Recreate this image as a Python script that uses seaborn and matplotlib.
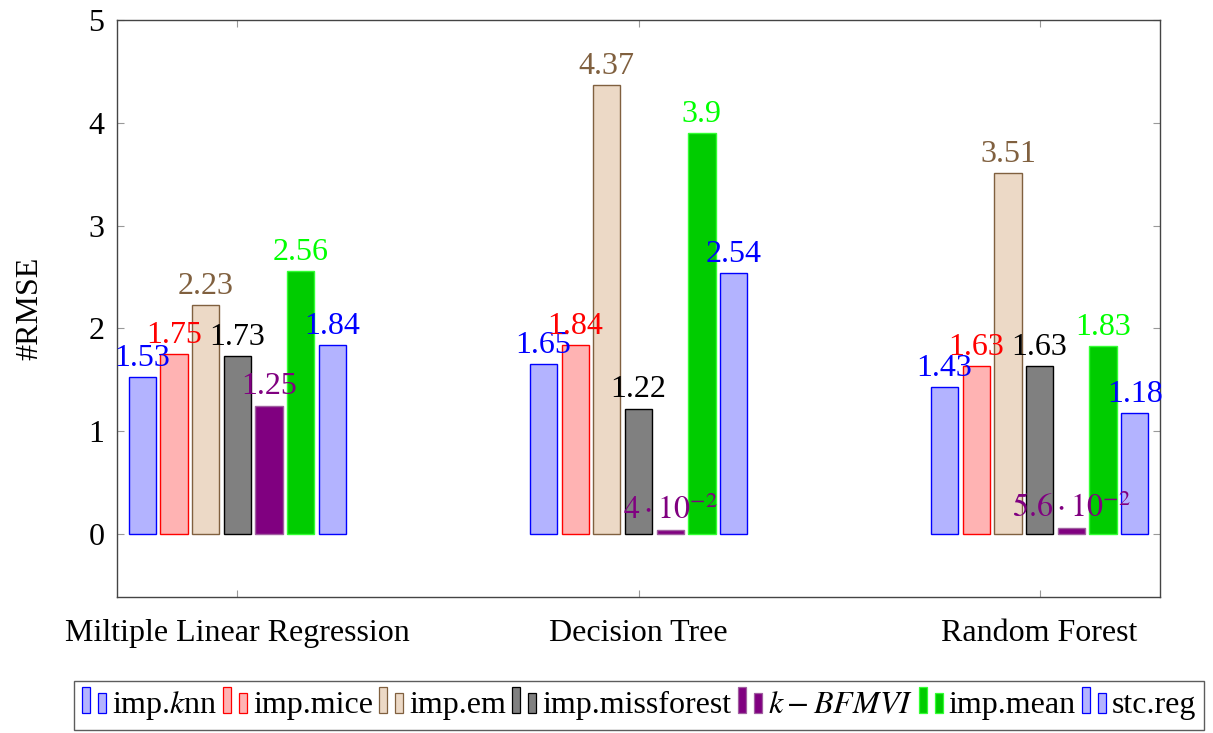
import matplotlib
matplotlib.use("Agg")
import matplotlib.pyplot as plt
from matplotlib.patches import Rectangle
from matplotlib.legend_handler import HandlerBase
import seaborn as sns
import pandas as pd

# ---- data ----
models = ["Miltiple Linear Regression", "Decision Tree", "Random Forest"]
methods = ["imp.knn", "imp.mice", "imp.em", "imp.missforest", "k-BFMVI", "imp.mean", "stc.reg"]
legend_labels = ["imp.$k$nn", "imp.mice", "imp.em", "imp.missforest", "$k-BFMVI$", "imp.mean", "stc.reg"]

imp_knn = [1.53, 1.65, 1.43]
imp_mice = [1.75, 1.84, 1.63]
imp_em = [2.23, 4.37, 3.51]
imp_missforest = [1.73, 1.22, 1.63]
k_bfmvi = [1.25, 0.04, 0.056]
imp_mean = [2.56, 3.9, 1.83]
stc_reg = [1.84, 2.54, 1.18]

series = [imp_knn, imp_mice, imp_em, imp_missforest, k_bfmvi, imp_mean, stc_reg]
bar_texts = [
    ["1.53", "1.65", "1.43"],
    ["1.75", "1.84", "1.63"],
    ["2.23", "4.37", "3.51"],
    ["1.73", "1.22", "1.63"],
    ["1.25", r"$4\cdot10^{-2}$", r"$5.6\cdot10^{-2}$"],
    ["2.56", "3.9", "1.83"],
    ["1.84", "2.54", "1.18"],
]

# ---- style ----
fills = ["#B3B3FF", "#FFB3B3", "#ECD9C6", "#808080", "#800080", "#00CC00", "#B3B3FF"]
edges = ["#0000FF", "#FF0000", "#80603F", "#000000", "#A060A0", "#33FF33", "#0000FF"]
text_colors = ["#0000FF", "#FF0000", "#80603F", "#000000", "#800080", "#00FF00", "#0000FF"]

sns.set_style("ticks")
plt.rcParams["font.family"] = ["Liberation Serif", "DejaVu Serif"]
plt.rcParams["mathtext.fontset"] = "stix"
plt.rcParams["text.color"] = "black"
plt.rcParams["axes.labelcolor"] = "black"
FS = 23

rows = []
for name, vals in zip(methods, series):
    for model, v in zip(models, vals):
        rows.append({"model": model, "method": name, "rmse": v})
df = pd.DataFrame(rows)

fig = plt.figure(figsize=(12.13, 7.33), dpi=100)
ax = fig.add_axes([0.0965, 0.1855, 0.8598, 0.7872])

sns.barplot(data=df, x="model", y="rmse", hue="method", order=models,
            hue_order=methods, palette=fills, width=0.553, gap=0.14,
            errorbar=None, legend=False, ax=ax, saturation=1)

for cont, ec, tc, txt in zip(ax.containers, edges, text_colors, bar_texts):
    for p in cont:
        p.set_edgecolor(ec)
        p.set_linewidth(1.0)
    ax.bar_label(cont, labels=txt, padding=3, color=tc, fontsize=FS)

ax.set_xlim(-0.3, 2.3)
ax.set_ylim(-0.613, 5)
ax.set_yticks([0, 1, 2, 3, 4, 5])
ax.set_xlabel("")
ax.set_ylabel("#RMSE", fontsize=FS, labelpad=32)
ax.tick_params(axis="both", which="major", direction="in", length=5, width=0.8,
               color="#999999", labelcolor="black", labelsize=FS, top=True, right=True)
ax.tick_params(axis="y", pad=9)
ax.tick_params(axis="x", pad=16)
for s in ax.spines.values():
    s.set_visible(True)
    s.set_color("#444444")
    s.set_linewidth(1.0)


class TwoBarHandler(HandlerBase):
    def create_artists(self, legend, orig_handle, xdescent, ydescent,
                       width, height, fontsize, trans):
        fc = orig_handle.get_facecolor()
        ec = orig_handle.get_edgecolor()
        x0 = -xdescent
        y0 = -ydescent
        bw = 0.32 * width
        r1 = Rectangle((x0, y0), bw, 1.16 * height, facecolor=fc, edgecolor=ec,
                       linewidth=0.9, transform=trans)
        r2 = Rectangle((x0 + 0.64 * width, y0), bw, 0.9 * height, facecolor=fc,
                       edgecolor=ec, linewidth=0.9, transform=trans)
        return [r1, r2]


proxies = [Rectangle((0, 0), 1, 1, facecolor=f, edgecolor=e) for f, e in zip(fills, edges)]
leg = fig.legend(proxies, legend_labels, loc="center", bbox_to_anchor=(0.5268, 1 - 705.5 / 733),
                 ncol=7, fontsize=FS, frameon=True, fancybox=False, edgecolor="#333333",
                 handler_map={Rectangle: TwoBarHandler()}, handlelength=0.78,
                 handletextpad=0.16, columnspacing=0.19, borderpad=0.25, borderaxespad=0)
leg.get_frame().set_linewidth(1.0)

fig.savefig("out.png", dpi=100)
